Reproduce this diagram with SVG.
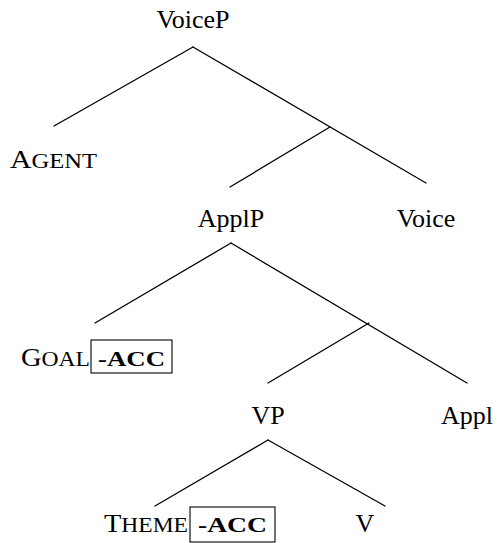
<svg xmlns="http://www.w3.org/2000/svg" width="498" height="543" viewBox="0 0 498 543">
  <style>
    text { font-family: "Liberation Serif", "Times New Roman", serif; fill: #000; }
    .lbl { font-size: 26px; }
    .sc { font-size: 21.5px; }
    .acc { font-size: 22px; font-weight: bold; }
    .edge { stroke: #000; stroke-width: 1.3; fill: none; stroke-linecap: round; }
    .box { fill: none; stroke: #000; stroke-width: 1.1; }
  </style>

  <!-- branches -->
  <g id="edges">
    <line class="edge" x1="193" y1="47" x2="54" y2="126"/>
    <line class="edge" x1="193" y1="47" x2="426" y2="183"/>
    <line class="edge" x1="330" y1="127" x2="230" y2="187"/>
    <line class="edge" x1="231" y1="243" x2="95" y2="323"/>
    <line class="edge" x1="231" y1="243" x2="467" y2="383"/>
    <line class="edge" x1="369" y1="323" x2="268" y2="383"/>
    <line class="edge" x1="268" y1="440" x2="155" y2="506"/>
    <line class="edge" x1="268" y1="440" x2="385" y2="506"/>
  </g>

  <g id="voicep"><text class="lbl" x="193" y="28" text-anchor="middle">VoiceP</text></g>
  <g id="agent"><text class="lbl" x="10" y="168" textLength="87" lengthAdjust="spacingAndGlyphs">A<tspan class="sc">GENT</tspan></text></g>
  <g id="applp"><text class="lbl" x="231" y="227" text-anchor="middle">ApplP</text></g>
  <g id="voice"><text class="lbl" x="426" y="227" text-anchor="middle">Voice</text></g>
  <g id="goal">
    <text class="lbl" x="21" y="366" textLength="69" lengthAdjust="spacingAndGlyphs">G<tspan class="sc">OAL</tspan></text>
    <rect class="box" x="91" y="340" width="81" height="33"/>
    <text class="acc" x="98" y="366" textLength="67" lengthAdjust="spacingAndGlyphs">-ACC</text>
  </g>
  <g id="vp"><text class="lbl" x="268" y="424" text-anchor="middle">VP</text></g>
  <g id="appl"><text class="lbl" x="467" y="424" text-anchor="middle">Appl</text></g>
  <g id="theme">
    <text class="lbl" x="104" y="532" textLength="84" lengthAdjust="spacingAndGlyphs">T<tspan class="sc">HEME</tspan></text>
    <rect class="box" x="190" y="507" width="85" height="35"/>
    <text class="acc" x="198" y="532" textLength="69" lengthAdjust="spacingAndGlyphs">-ACC</text>
  </g>
  <g id="v"><text class="lbl" x="365" y="532" text-anchor="middle">V</text></g>
</svg>
